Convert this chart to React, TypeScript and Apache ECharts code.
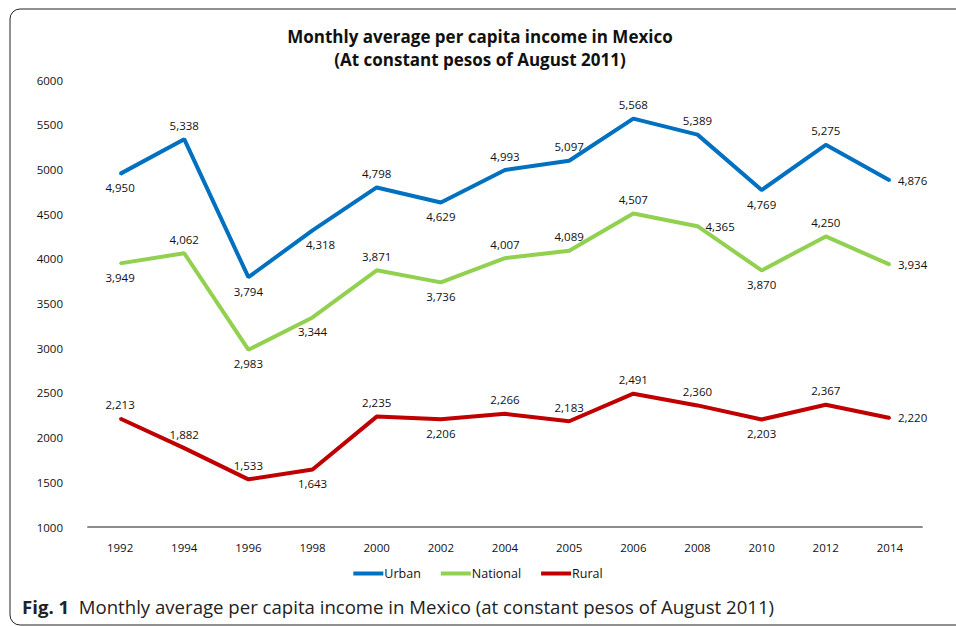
import React, { useEffect, useRef } from "react";
import * as echarts from "echarts";

const years = ["1992", "1994", "1996", "1998", "2000", "2002", "2004", "2005", "2006", "2008", "2010", "2012", "2014"];
const urban = [4950, 5338, 3794, 4318, 4798, 4629, 4993, 5097, 5568, 5389, 4769, 5275, 4876];
const national = [3949, 4062, 2983, 3344, 3871, 3736, 4007, 4089, 4507, 4365, 3870, 4250, 3934];
const rural = [2213, 1882, 1533, 1643, 2235, 2206, 2266, 2183, 2491, 2360, 2203, 2367, 2220];

const urbanPos = ["bottom", "top", "bottom", "bottom", "top", "bottom", "top", "top", "top", "top", "bottom", "top", "right"];
const nationalPos = ["bottom", "top", "bottom", "bottom", "top", "bottom", "top", "top", "top", "right", "bottom", "top", "right"];
const ruralPos = ["top", "top", "top", "bottom", "top", "bottom", "top", "top", "top", "top", "bottom", "top", "right"];

const FONT = "'Open Sans', 'Liberation Sans', sans-serif";

function mk(name: string, vals: number[], pos: string[], color: string, shiftIdx: number[] = []) {
  return {
    name,
    type: "line",
    data: vals.map((v, i) => ({
      value: v,
      label: shiftIdx.includes(i) ? { position: pos[i], offset: [8, 0] } : { position: pos[i] },
    })),
    symbol: "circle",
    symbolSize: 2,
    showSymbol: true,
    lineStyle: { width: 4, color },
    itemStyle: { color },
    label: {
      show: true,
      fontFamily: FONT,
      fontSize: 11.5,
      color: "#111",
      distance: 7,
      formatter: (p: any) => Number(p.value).toLocaleString("en-US"),
    },
  };
}

export default function App() {
  const ref = useRef<HTMLDivElement>(null);
  useEffect(() => {
    if (!ref.current) return;
    const chart = echarts.init(ref.current, null, { renderer: "svg" });
    chart.setOption({
      animation: false,
      backgroundColor: "#fff",
      title: {
        text: "Monthly average per capita income in Mexico\n(At constant pesos of August 2011)",
        left: 475,
        textAlign: "center",
        top: 20,
        textStyle: {
          fontFamily: FONT,
          fontSize: 17,
          fontWeight: "bold",
          color: "#111",
          lineHeight: 23,
        },
      },
      grid: { left: 88, right: 34, top: 80, bottom: 99 },
      xAxis: {
        type: "category",
        data: years,
        boundaryGap: true,
        axisLine: { lineStyle: { color: "#8c8c8c", width: 2 } },
        axisTick: { show: false },
        axisLabel: { fontFamily: FONT, fontSize: 11.5, color: "#111", margin: 14 },
      },
      yAxis: {
        type: "value",
        min: 1000,
        max: 6000,
        interval: 500,
        axisLine: { show: false },
        axisTick: { show: false },
        splitLine: { show: false },
        axisLabel: {
          fontFamily: FONT,
          fontSize: 11.5,
          color: "#111",
          margin: 25,
          formatter: (v: number) => String(v),
        },
      },
      legend: {
        bottom: 41,
        left: "center",
        icon: "rect",
        itemWidth: 30,
        itemHeight: 4,
        itemGap: 20,
        textStyle: { fontFamily: FONT, fontSize: 12.5, color: "#111", padding: [0, 0, 0, -4] },
        data: ["Urban", "National", "Rural"],
      },
      series: [
        mk("Urban", urban, urbanPos, "#0070c0", [3]),
        mk("National", national, nationalPos, "#92d050"),
        mk("Rural", rural, ruralPos, "#c00000"),
      ],
      graphic: [
        {
          type: "rect",
          shape: { x: 10, y: 9, width: 970, height: 616, r: 10 },
          style: { fill: "none", stroke: "#222", lineWidth: 1 },
          silent: true,
        },
        {
          type: "text",
          x: 22,
          y: 606,
          style: {
            text: "{b|Fig. 1}  Monthly average per capita income in Mexico (at constant pesos of August 2011)",
            fontFamily: FONT,
            fontSize: 18.6,
            fill: "#222",
            verticalAlign: "middle",
            rich: {
              b: { fontFamily: FONT, fontSize: 18.6, fontWeight: "bold", fill: "#222" },
            },
          },
        },
      ],
    });
    return () => chart.dispose();
  }, []);
  return (
    <div
      ref={ref}
      style={{ position: "fixed", left: 0, top: 0, width: 956, height: 626 }}
    />
  );
}
